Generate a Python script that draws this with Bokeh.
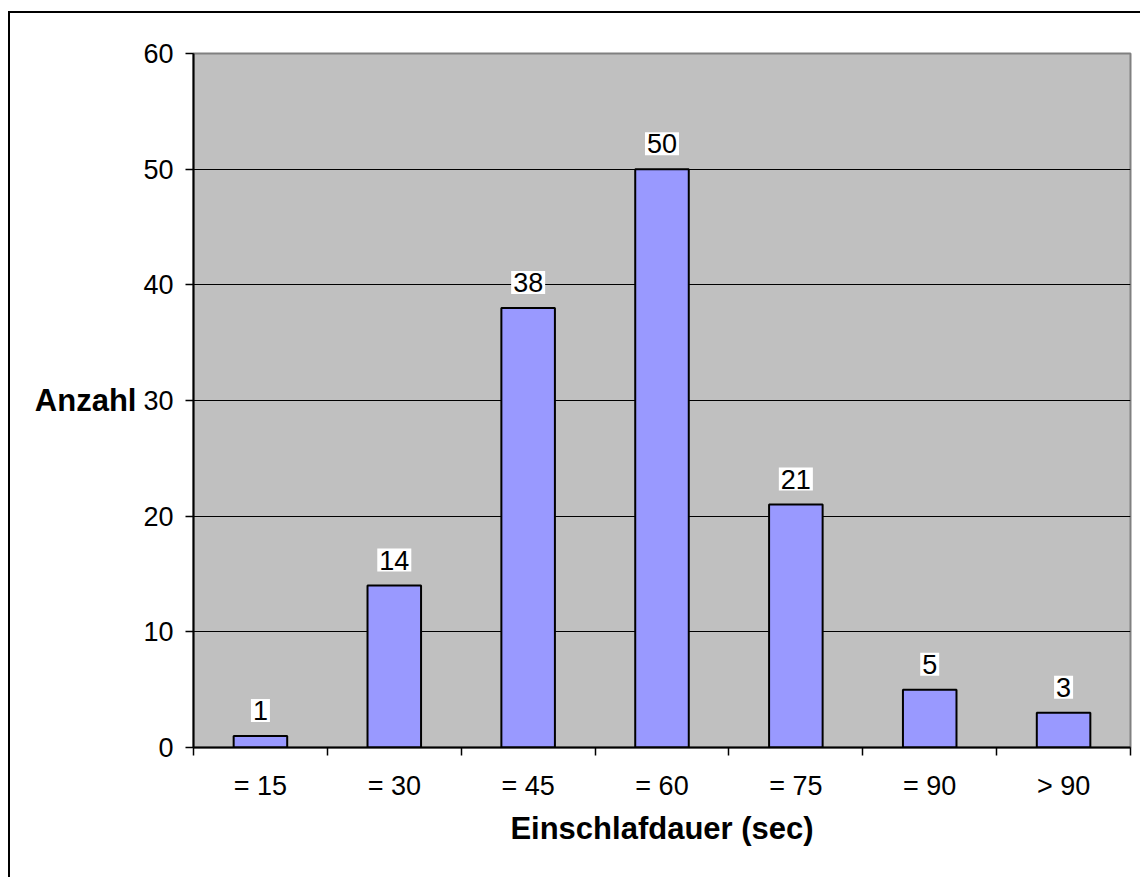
from bokeh.plotting import figure
from bokeh.models import Range1d, FixedTicker, ColumnDataSource, Label
from bokeh.embed import file_html
from bokeh.resources import INLINE

categories = ["= 15", "= 30", "= 45", "= 60", "= 75", "= 90", "> 90"]
counts = [1, 14, 38, 50, 21, 5, 3]
y_ticks = [0, 10, 20, 30, 40, 50, 60]

FONT = "Liberation Sans"
centers = [i + 0.5 for i in range(len(categories))]
src = ColumnDataSource(dict(x=centers, top=counts))

p = figure(width=1132, height=866, output_backend="svg", toolbar_location=None,
           x_range=Range1d(0, len(categories)), y_range=Range1d(0, 60),
           min_border_left=183, min_border_top=40, min_border_right=12, min_border_bottom=132,
           background_fill_color="#C0C0C0", border_fill_color="white",
           outline_line_color="#808080", outline_line_width=2,
           styles={"margin-left": "8px", "margin-top": "11px",
                   "border-left": "2px solid black", "border-top": "2px solid black"})

p.vbar(x="x", top="top", width=0.4, bottom=0, source=src,
       fill_color="#9999FF", line_color="black", line_width=2)

for xc, c in zip(centers, counts):
    p.add_layout(Label(x=xc, y=c, text=str(c), text_align="center",
                       text_baseline="bottom", y_offset=14, text_font=FONT,
                       text_font_size="27px", text_color="black",
                       background_fill_color="white", padding=2))

# x axis
p.xaxis.ticker = FixedTicker(ticks=centers, minor_ticks=list(range(len(categories) + 1)))
p.xaxis.major_label_overrides = {c: l for c, l in zip(centers, categories)}
p.xaxis.major_tick_out = 0
p.xaxis.major_tick_in = 0
p.xaxis.minor_tick_out = 8
p.xaxis.minor_tick_in = 0
p.xaxis.minor_tick_line_color = "black"
p.xaxis.minor_tick_line_width = 1.5
p.xaxis.axis_line_color = "black"
p.xaxis.axis_line_width = 2
p.xaxis.major_label_text_font = FONT
p.xaxis.major_label_text_font_size = "27px"
p.xaxis.major_label_text_color = "black"
p.xaxis.major_label_standoff = 15
p.xaxis.axis_label = "Einschlafdauer (sec)"
p.xaxis.axis_label_text_font = FONT
p.xaxis.axis_label_text_font_size = "31px"
p.xaxis.axis_label_text_font_style = "bold"
p.xaxis.axis_label_text_color = "black"
p.xaxis.axis_label_standoff = 7

# y axis
p.yaxis.ticker = FixedTicker(ticks=y_ticks)
p.yaxis.minor_tick_line_color = None
p.yaxis.major_tick_out = 8
p.yaxis.major_tick_in = 0
p.yaxis.major_tick_line_color = "black"
p.yaxis.major_tick_line_width = 1.5
p.yaxis.axis_line_color = "black"
p.yaxis.axis_line_width = 2
p.yaxis.major_label_text_font = FONT
p.yaxis.major_label_text_font_size = "27px"
p.yaxis.major_label_text_color = "black"
p.yaxis.major_label_standoff = 12
p.yaxis.axis_label = "Anzahl"
p.yaxis.axis_label_text_font = FONT
p.yaxis.axis_label_text_font_size = "31px"
p.yaxis.axis_label_text_font_style = "bold"
p.yaxis.axis_label_text_color = "black"
p.yaxis.axis_label_standoff = 4
p.yaxis.axis_label_orientation = "horizontal"

p.xgrid.grid_line_color = None
p.ygrid.ticker = FixedTicker(ticks=y_ticks[1:-1])
p.ygrid.grid_line_color = "black"
p.ygrid.grid_line_width = 1

open("out.html", "w").write(file_html(p, INLINE))
